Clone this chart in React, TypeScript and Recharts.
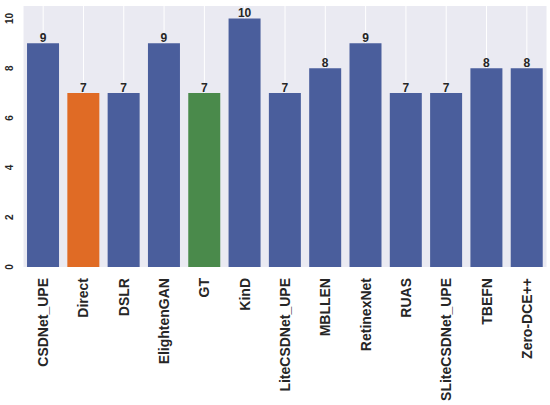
import React from "react";
import { BarChart, Bar, XAxis, YAxis, CartesianGrid, Cell, LabelList } from "recharts";

const methods = [
  "CSDNet_UPE", "Direct", "DSLR", "ElightenGAN", "GT", "KinD", "LiteCSDNet_UPE",
  "MBLLEN", "RetinexNet", "RUAS", "SLiteCSDNet_UPE", "TBEFN", "Zero-DCE++",
];
const counts = [9, 7, 7, 9, 7, 10, 7, 8, 9, 7, 7, 8, 8];
const yTicks = [0, 2, 4, 6, 8, 10];

const BLUE = "#4A5E9C";
const special: Record<string, string> = { Direct: "#E06B25", GT: "#4A8A4B" };

const data = methods.map((name, i) => ({ name, count: counts[i] }));

const font = "'Liberation Sans', Arial, sans-serif";

function YTick({ y, payload }: any) {
  const tx = 13;
  return (
    <text
      x={tx}
      y={y}
      transform={`rotate(-90, ${tx}, ${y})`}
      textAnchor="middle"
      fontSize={10}
      fontWeight="bold"
      fill="#262626"
      fontFamily={font}
    >
      {payload.value}
    </text>
  );
}

function XTick({ x, y, payload }: any) {
  const tx = x + 5;
  const ty = y + 3;
  return (
    <text
      x={tx}
      y={ty}
      transform={`rotate(-90, ${tx}, ${ty})`}
      textAnchor="end"
      fontSize={14}
      fontWeight="bold"
      fill="#262626"
      fontFamily={font}
    >
      {payload.value}
    </text>
  );
}

export default function App() {
  return (
    <div style={{ position: "absolute", left: 0, top: 0, background: "#fff" }}>
      <BarChart
        width={550}
        height={405}
        data={data}
        margin={{ top: 6, right: 3, left: 0, bottom: 0 }}
        barCategoryGap="10%"
      >
        <CartesianGrid horizontal={false} stroke="#fff" strokeWidth={1} fill="#EAEAF2" fillOpacity={1} />
        <XAxis
          dataKey="name"
          interval={0}
          height={138}
          axisLine={false}
          tickLine={false}
          tick={<XTick />}
        />
        <YAxis
          type="number"
          domain={[0, 10.5]}
          ticks={yTicks}
          width={23}
          axisLine={false}
          tickLine={false}
          tick={<YTick />}
        />
        <Bar dataKey="count" isAnimationActive={false}>
          {data.map((d) => (
            <Cell key={d.name} fill={special[d.name] ?? BLUE} />
          ))}
          <LabelList
            dataKey="count"
            position="top"
            offset={1}
            fontSize={12}
            fontWeight="bold"
            fill="#262626"
            fontFamily={font}
          />
        </Bar>
      </BarChart>
    </div>
  );
}
